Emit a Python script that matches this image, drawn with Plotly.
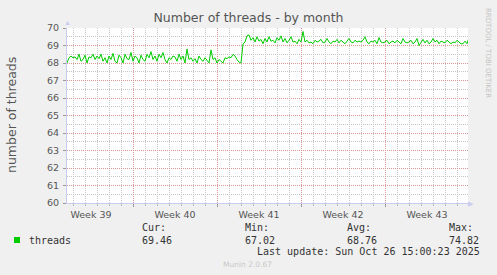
import plotly.graph_objects as go

# ---- data (one sample every 4 hours, x in days from left edge) ----
threads = [
    68.0, 68.3, 68.4, 68.3, 68.35, 68.2, 68.5, 68.1, 68.2, 68.45, 68.0, 68.35, 68.3, 68.5, 68.2, 68.4, 68.25, 68.5, 68.1, 68.3, 68.0,
    68.4, 68.2, 68.55, 68.1, 68.0, 68.45, 68.3, 68.0, 68.5, 68.25, 68.2, 68.6, 68.1, 68.4, 68.3, 68.0, 68.45, 68.2, 68.1, 68.5,
    68.3, 68.65, 68.2, 68.4, 68.1, 68.5, 68.3, 68.6, 68.2, 68.0, 68.3, 68.2, 68.4, 68.35, 68.1, 68.5, 68.2, 68.4, 68.0, 68.8,
    68.2, 68.3, 68.1, 68.25, 68.0, 68.4, 68.2, 68.1, 68.3, 68.15, 68.0, 68.75, 68.2, 68.3, 68.0, 68.2, 68.1, 68.0, 68.3, 68.25,
    68.35, 68.3, 68.5, 68.4, 68.2, 68.05, 68.0,
    69.1, 69.2, 69.55, 69.6, 69.3, 69.45, 69.2, 69.5, 69.25, 69.35, 69.1, 69.4, 69.2, 69.5, 69.25, 69.3, 69.15, 69.45, 69.3, 69.55, 69.2, 69.4, 69.15, 69.3,
    69.5, 69.2, 69.25, 69.1, 69.35, 69.2, 69.8, 69.2, 69.3, 69.15, 69.2, 69.1, 69.3, 69.2, 69.25, 69.35, 69.15, 69.2, 69.4, 69.2,
    69.1, 69.25, 69.2, 69.35, 69.15, 69.3, 69.2, 69.1, 69.25, 69.4, 69.2, 69.15, 69.3, 69.2, 69.25, 69.2, 69.3, 69.5, 69.2, 69.1,
    69.25, 69.2, 69.3, 69.1, 69.45, 69.2, 69.15, 69.2, 69.3, 69.1, 69.2, 69.25, 69.15, 69.3, 69.2, 69.1, 69.4, 69.2, 69.15, 69.2,
    69.3, 69.1, 69.2, 69.4, 69.0, 69.2, 69.35, 69.15, 69.3, 69.1, 69.2, 69.4, 69.2, 69.3, 69.1, 69.25, 69.2, 69.15, 69.3, 69.2,
    69.1, 69.2, 69.15, 69.3, 69.2, 69.1, 69.1, 69.25, 69.1, 69.46,
]
step_days = 1 / 6
days = [i * step_days for i in range(len(threads))]

week_centers = [2, 9, 16, 23, 30]
week_labels = ["Week 39", "Week 40", "Week 41", "Week 42", "Week 43"]
week_start = 5.5
x_range = [0, 401 / 12]

legend_name = "threads"
stats_labels = ["Cur:", "Min:", "Avg:", "Max:"]
stats_values = ["69.46", "67.02", "68.76", "74.82"]
last_update = "Last update: Sun Oct 26 15:00:23 2025"

W, H = 497, 275
L, R, T, B = 67, 468, 28, 203

def px(x):
    return (x - L) / (R - L)

def py(y):
    return (B - y) / (B - T)

GREEN = "#00cc00"
TXT = "#555555"
AXIS = "#c8ccf0"
MAJ = "#dc9696"
MIN = "#c6c6c6"
SANS = "DejaVu Sans"
MONO = "DejaVu Sans Mono"

fig = go.Figure()
fig.add_trace(go.Scatter(x=days, y=threads, mode="lines",
                         line=dict(color=GREEN, width=1), showlegend=False,
                         hoverinfo="skip"))
fig.add_trace(go.Scatter(x=week_centers, y=[None] * len(week_centers),
                         xaxis="x2", showlegend=False, hoverinfo="skip"))

fig.update_layout(
    width=W, height=H,
    margin=dict(l=L, r=W - R, t=T, b=H - B, pad=0),
    paper_bgcolor="#f0f0f0", plot_bgcolor="#ffffff",
    title=dict(text="Number of threads - by month", x=0.5, xanchor="center",
               y=1 - 18 / H, yanchor="middle",
               font=dict(family=SANS, size=12.5, color=TXT)),
    xaxis=dict(range=x_range, tickmode="linear", tick0=week_start, dtick=7,
               showticklabels=False, ticks="outside", ticklen=3, tickcolor="#999999",
               showgrid=True, gridcolor=MAJ, griddash="1px,1px", gridwidth=1,
               minor=dict(tick0=0.5, dtick=1, showgrid=True, gridcolor=MIN,
                          griddash="1px,1px", ticks="outside", ticklen=2, tickcolor="#bbbbbb"),
               showline=True, linecolor=AXIS, linewidth=1, zeroline=False, fixedrange=True),
    xaxis2=dict(range=x_range, overlaying="x", side="bottom", tickmode="array",
                tickvals=week_centers, ticktext=week_labels, ticks="outside", ticklen=3,
                tickcolor="rgba(0,0,0,0)", showgrid=False, zeroline=False, showline=False,
                tickfont=dict(family=SANS, size=9.5, color=TXT)),
    yaxis=dict(range=[60, 70], tickmode="linear", tick0=60, dtick=1,
               ticks="outside", ticklen=3, tickcolor="#999999",
               tickfont=dict(family=SANS, size=9.5, color=TXT), ticklabelstandoff=2,
               showgrid=True, gridcolor=MAJ, griddash="1px,1px", gridwidth=1,
               minor=dict(dtick=0.5, showgrid=True, gridcolor=MIN, griddash="1px,1px"),
               showline=True, linecolor=AXIS, linewidth=1, zeroline=False,
               title=None, fixedrange=True),
)

ann = []
ann.append(dict(text="number of threads", textangle=-90, x=px(11), y=py(115),
                font=dict(family=SANS, size=12.5, color=TXT)))
ann.append(dict(text="RRDTOOL / TOBI OETIKER", textangle=90, x=px(488), y=py(53),
                font=dict(family=SANS, size=7, color="#c4c4c4")))
ann.append(dict(text="▲", x=px(67), y=py(22), font=dict(size=7, color=AXIS)))
ann.append(dict(text="▶", x=px(471), y=py(203), font=dict(size=7, color=AXIS)))
ann.append(dict(text=legend_name, x=px(27), y=py(240), xanchor="left",
                font=dict(family=MONO, size=10, color="#333333")))
stat_x = [140, 243, 345, 447]
for sx, lab, val in zip(stat_x, stats_labels, stats_values):
    ann.append(dict(text=lab, x=px(sx), y=py(227.5), xanchor="left",
                    font=dict(family=MONO, size=10, color="#333333")))
    ann.append(dict(text=val, x=px(sx), y=py(240), xanchor="left",
                    font=dict(family=MONO, size=10, color="#333333")))
ann.append(dict(text=last_update, x=px(482), y=py(251.5), xanchor="right",
                font=dict(family=MONO, size=10, color="#333333")))
ann.append(dict(text="Munin 2.0.67", x=px(247.5), y=py(264.5), xanchor="center",
                font=dict(family=SANS, size=7.5, color="#c8c8c8")))
for a in ann:
    a.update(xref="paper", yref="paper", showarrow=False,
             yanchor=a.get("yanchor", "middle"), xanchor=a.get("xanchor", "center"))
fig.update_layout(annotations=ann)

fig.add_shape(type="rect", xref="paper", yref="paper",
              x0=px(14), x1=px(20), y0=py(243), y1=py(237),
              fillcolor=GREEN, line=dict(width=0))

fig.write_html("out.html")
